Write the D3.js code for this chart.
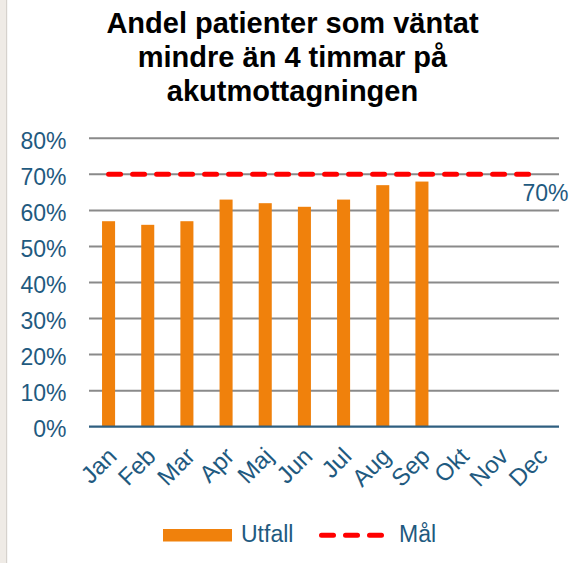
<!DOCTYPE html>
<html>
<head>
<meta charset="utf-8">
<script src="https://cdn.jsdelivr.net/npm/d3@7"></script>
<style>
  html, body { margin: 0; padding: 0; background: #fff; }
  svg { display: block; }
  text { font-family: "Liberation Sans", Arial, sans-serif; }
</style>
</head>
<body>
<script>
const titleLines = ["Andel patienter som väntat", "mindre än 4 timmar på", "akutmottagningen"];
const months = ["Jan","Feb","Mar","Apr","Maj","Jun","Jul","Aug","Sep","Okt","Nov","Dec"];
const utfall = [0.57, 0.56, 0.57, 0.63, 0.62, 0.61, 0.63, 0.67, 0.68, null, null, null];
const mal = [0.70, 0.70, 0.70, 0.70, 0.70, 0.70, 0.70, 0.70, 0.70, 0.70, 0.70, 0.70];
const yTicks = [0, 0.1, 0.2, 0.3, 0.4, 0.5, 0.6, 0.7, 0.8];
const legendLabels = ["Utfall", "Mål"];

const W = 583, H = 563;
const textColor = "#1f5a80";
const orange = "#f0810c";
const red = "#ff0000";

const svg = d3.select("body").append("svg").attr("width", W).attr("height", H);

// left frame strip
svg.append("rect").attr("x", 0).attr("y", 0).attr("width", 6).attr("height", H).attr("fill", "#efebe6");
svg.append("rect").attr("x", 6).attr("y", 0).attr("width", 1.2).attr("height", H).attr("fill", "#d6d2cd");

// title
const title = svg.append("text").attr("text-anchor", "middle").attr("font-weight", "bold")
  .attr("font-size", 29).attr("fill", "#000");
titleLines.forEach((l, i) => {
  title.append("tspan").attr("x", 292.5).attr("y", 33 + i * 34).text(l);
});

const plot = { left: 89, right: 559, top: 138.3, bottom: 426.7 };
const x = d3.scaleBand().domain(months).range([plot.left, plot.right]).paddingInner(0.667).paddingOuter(0.333);
const xc = d3.scalePoint().domain(months).range([plot.left, plot.right]).padding(0.5);
const y = d3.scaleLinear().domain([0, 0.8]).range([plot.bottom, plot.top]);

// gridlines
svg.append("g").selectAll("line").data(yTicks.filter(t => t > 0)).join("line")
  .attr("x1", plot.left).attr("x2", plot.right)
  .attr("y1", d => y(d)).attr("y2", d => y(d))
  .attr("stroke", "#8a8a8a").attr("stroke-width", 2);

// y axis labels
const yAxis = d3.axisLeft(y).tickValues(yTicks).tickFormat(d3.format(".0%")).tickSize(0).tickPadding(0);
const yg = svg.append("g").attr("transform", `translate(66.5,0)`).call(yAxis);
yg.select(".domain").remove();
yg.selectAll("text").attr("font-size", 23).attr("fill", textColor)
  .attr("font-family", '"Liberation Sans", Arial, sans-serif').attr("dy", "0.44em");

// bars
svg.append("g").selectAll("rect").data(months.map((m, i) => ({ m, v: utfall[i] })).filter(d => d.v != null))
  .join("rect")
  .attr("x", d => x(d.m)).attr("width", x.bandwidth())
  .attr("y", d => y(d.v)).attr("height", d => y(0) - y(d.v))
  .attr("fill", orange);

// baseline
svg.append("line").attr("x1", plot.left).attr("x2", plot.right)
  .attr("y1", y(0)).attr("y2", y(0)).attr("stroke", "#2f5f80").attr("stroke-width", 2.2);

// target line
const line = d3.line().x((d, i) => xc(months[i])).y(d => y(d));
svg.append("path").datum(mal).attr("d", line)
  .attr("fill", "none").attr("stroke", red).attr("stroke-width", 5)
  .attr("stroke-dasharray", "12,12").attr("stroke-linecap", "round");

// target label
svg.append("text").attr("x", xc("Dec") + 6).attr("y", y(mal[11]) + 27)
  .attr("text-anchor", "middle").attr("font-size", 23).attr("fill", textColor)
  .text(d3.format(".0%")(mal[11]));

// x labels
const xAxis = d3.axisBottom(xc).tickSize(0).tickPadding(0);
const xg = svg.append("g").attr("transform", `translate(0,${plot.bottom})`).call(xAxis);
xg.select(".domain").remove();
xg.selectAll(".tick text")
  .attr("font-size", 24).attr("fill", textColor)
  .attr("font-family", '"Liberation Sans", Arial, sans-serif')
  .attr("text-anchor", "end").attr("dy", null).attr("y", null)
  .attr("transform", "translate(9,31) rotate(-45)");

// legend
const lg = svg.append("g");
lg.append("rect").attr("x", 163).attr("y", 529).attr("width", 69).attr("height", 12.5).attr("fill", orange);
lg.append("text").attr("x", 241).attr("y", 541.7).attr("font-size", 23).attr("fill", textColor).text(legendLabels[0]);
lg.append("line").attr("x1", 321.5).attr("x2", 382.5).attr("y1", 535.3).attr("y2", 535.3)
  .attr("stroke", red).attr("stroke-width", 5).attr("stroke-dasharray", "12,12").attr("stroke-linecap", "round");
lg.append("text").attr("x", 399).attr("y", 541.7).attr("font-size", 23).attr("fill", textColor).text(legendLabels[1]);
</script>
</body>
</html>
